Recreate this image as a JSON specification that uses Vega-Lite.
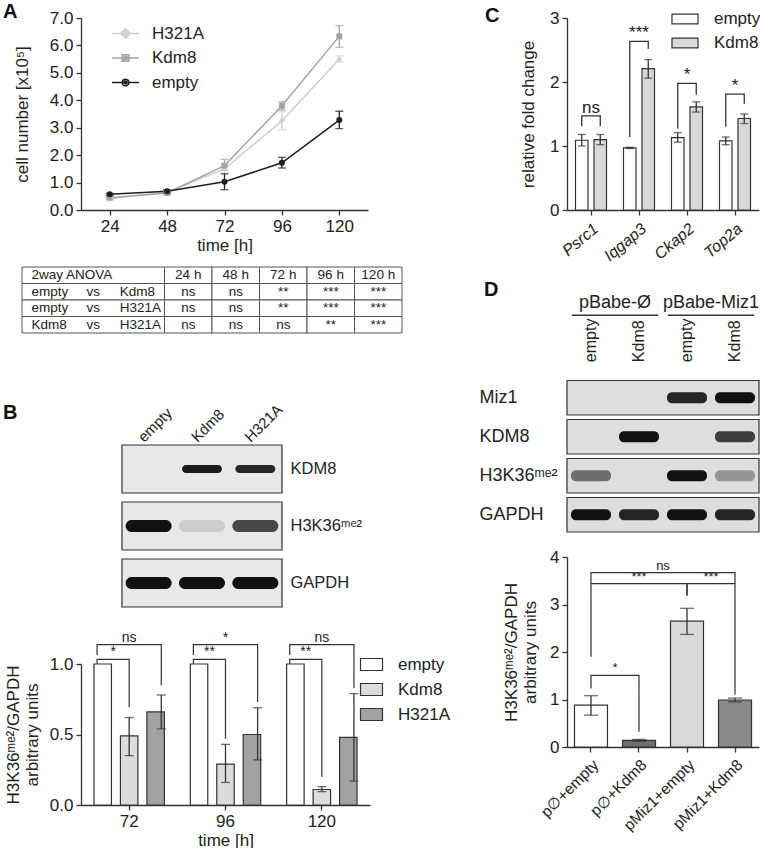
{
  "$schema": "https://vega.github.io/schema/vega-lite/v6.json",
  "padding": {"left": 3, "top": 1, "right": 0, "bottom": 0},
  "config": {
    "font": "Liberation Sans",
    "view": {"stroke": null},
    "axis": {"labelFont": "Liberation Sans", "titleFont": "Liberation Sans", "labelFontSize": 17, "titleFontSize": 17, "titleFontWeight": "normal", "labelColor": "#222", "titleColor": "#222", "domainColor": "#333", "tickColor": "#333", "domainWidth": 1.3, "tickWidth": 1.3, "tickSize": 5, "grid": false, "labelPadding": 3, "labelOverlap": false},
    "legend": {"labelFont": "Liberation Sans", "labelFontSize": 17, "labelColor": "#222"},
    "title": {"font": "Liberation Sans", "fontSize": 20, "fontWeight": "bold", "color": "#111", "anchor": "start", "frame": "group", "offset": 0},
    "text": {"font": "Liberation Sans", "color": "#222"}
  },
  "datasets": {
    "growth": [
      {"series": "H321A", "t": 24, "v": 0.42, "lo": 0.38, "hi": 0.46},
      {"series": "H321A", "t": 48, "v": 0.65, "lo": 0.6, "hi": 0.7},
      {"series": "H321A", "t": 72, "v": 1.5, "lo": 1.35, "hi": 1.65},
      {"series": "H321A", "t": 96, "v": 3.25, "lo": 2.92, "hi": 3.58},
      {"series": "H321A", "t": 120, "v": 5.5, "lo": 5.4, "hi": 5.62},
      {"series": "Kdm8", "t": 24, "v": 0.45, "lo": 0.42, "hi": 0.48},
      {"series": "Kdm8", "t": 48, "v": 0.62, "lo": 0.57, "hi": 0.67},
      {"series": "Kdm8", "t": 72, "v": 1.62, "lo": 1.45, "hi": 1.85},
      {"series": "Kdm8", "t": 96, "v": 3.8, "lo": 3.64, "hi": 3.95},
      {"series": "Kdm8", "t": 120, "v": 6.33, "lo": 5.93, "hi": 6.72},
      {"series": "empty", "t": 24, "v": 0.57, "lo": 0.53, "hi": 0.61},
      {"series": "empty", "t": 48, "v": 0.68, "lo": 0.62, "hi": 0.74},
      {"series": "empty", "t": 72, "v": 1.03, "lo": 0.74, "hi": 1.32},
      {"series": "empty", "t": 96, "v": 1.72, "lo": 1.53, "hi": 1.92},
      {"series": "empty", "t": 120, "v": 3.28, "lo": 2.97, "hi": 3.6}
    ],
    "cells": [
      {"row": "h", "a": "c1", "b": "c3"}, {"row": "h", "a": "24 h", "b": "24 h"}, {"row": "h", "a": "48 h", "b": "48 h"}, {"row": "h", "a": "72 h", "b": "72 h"}, {"row": "h", "a": "96 h", "b": "96 h"}, {"row": "h", "a": "120 h", "b": "120 h"},
      {"row": "r1", "a": "c1", "b": "c3"}, {"row": "r1", "a": "24 h", "b": "24 h"}, {"row": "r1", "a": "48 h", "b": "48 h"}, {"row": "r1", "a": "72 h", "b": "72 h"}, {"row": "r1", "a": "96 h", "b": "96 h"}, {"row": "r1", "a": "120 h", "b": "120 h"},
      {"row": "r2", "a": "c1", "b": "c3"}, {"row": "r2", "a": "24 h", "b": "24 h"}, {"row": "r2", "a": "48 h", "b": "48 h"}, {"row": "r2", "a": "72 h", "b": "72 h"}, {"row": "r2", "a": "96 h", "b": "96 h"}, {"row": "r2", "a": "120 h", "b": "120 h"},
      {"row": "r3", "a": "c1", "b": "c3"}, {"row": "r3", "a": "24 h", "b": "24 h"}, {"row": "r3", "a": "48 h", "b": "48 h"}, {"row": "r3", "a": "72 h", "b": "72 h"}, {"row": "r3", "a": "96 h", "b": "96 h"}, {"row": "r3", "a": "120 h", "b": "120 h"}
    ],
    "tbl": [
      {"row": "h", "col": "c1", "txt": "2way ANOVA"}, {"row": "h", "col": "24 h", "txt": "24 h"}, {"row": "h", "col": "48 h", "txt": "48 h"}, {"row": "h", "col": "72 h", "txt": "72 h"}, {"row": "h", "col": "96 h", "txt": "96 h"}, {"row": "h", "col": "120 h", "txt": "120 h"},
      {"row": "r1", "col": "c1", "txt": "empty"}, {"row": "r1", "col": "c2", "txt": "vs"}, {"row": "r1", "col": "c3", "txt": "Kdm8"}, {"row": "r1", "col": "24 h", "txt": "ns"}, {"row": "r1", "col": "48 h", "txt": "ns"}, {"row": "r1", "col": "72 h", "txt": "**"}, {"row": "r1", "col": "96 h", "txt": "***"}, {"row": "r1", "col": "120 h", "txt": "***"},
      {"row": "r2", "col": "c1", "txt": "empty"}, {"row": "r2", "col": "c2", "txt": "vs"}, {"row": "r2", "col": "c3", "txt": "H321A"}, {"row": "r2", "col": "24 h", "txt": "ns"}, {"row": "r2", "col": "48 h", "txt": "ns"}, {"row": "r2", "col": "72 h", "txt": "**"}, {"row": "r2", "col": "96 h", "txt": "***"}, {"row": "r2", "col": "120 h", "txt": "***"},
      {"row": "r3", "col": "c1", "txt": "Kdm8"}, {"row": "r3", "col": "c2", "txt": "vs"}, {"row": "r3", "col": "c3", "txt": "H321A"}, {"row": "r3", "col": "24 h", "txt": "ns"}, {"row": "r3", "col": "48 h", "txt": "ns"}, {"row": "r3", "col": "72 h", "txt": "ns"}, {"row": "r3", "col": "96 h", "txt": "**"}, {"row": "r3", "col": "120 h", "txt": "***"}
    ],
    "bframes": [
      {"blot": "KDM8", "a": "empty", "b": "H321A"},
      {"blot": "H3K36ᵐᵉ²", "a": "empty", "b": "H321A"},
      {"blot": "GAPDH", "a": "empty", "b": "H321A"}
    ],
    "bbands": [
      {"blot": "KDM8", "lane": "empty", "s": 0},
      {"blot": "KDM8", "lane": "Kdm8", "s": 0.95},
      {"blot": "KDM8", "lane": "H321A", "s": 0.9},
      {"blot": "H3K36ᵐᵉ²", "lane": "empty", "s": 1},
      {"blot": "H3K36ᵐᵉ²", "lane": "Kdm8", "s": 0.12},
      {"blot": "H3K36ᵐᵉ²", "lane": "H321A", "s": 0.75},
      {"blot": "GAPDH", "lane": "empty", "s": 1},
      {"blot": "GAPDH", "lane": "Kdm8", "s": 1},
      {"blot": "GAPDH", "lane": "H321A", "s": 1}
    ],
    "bbar": [
      {"t": "72", "s": "empty", "v": 1.0},
      {"t": "72", "s": "Kdm8", "v": 0.49, "lo": 0.35, "hi": 0.62},
      {"t": "72", "s": "H321A", "v": 0.66, "lo": 0.54, "hi": 0.78},
      {"t": "96", "s": "empty", "v": 1.0},
      {"t": "96", "s": "Kdm8", "v": 0.29, "lo": 0.16, "hi": 0.43},
      {"t": "96", "s": "H321A", "v": 0.5, "lo": 0.32, "hi": 0.69},
      {"t": "120", "s": "empty", "v": 1.0},
      {"t": "120", "s": "Kdm8", "v": 0.11, "lo": 0.095, "hi": 0.13},
      {"t": "120", "s": "H321A", "v": 0.48, "lo": 0.17, "hi": 0.79}
    ],
    "bbr": [
      {"id": "a", "t": "72", "p": "empty", "v": 1.064, "k": 0}, {"id": "a", "t": "72", "p": "empty", "v": 1.137, "k": 1}, {"id": "a", "t": "72", "p": "H321A", "v": 1.137, "k": 2}, {"id": "a", "t": "72", "p": "H321A", "v": 0.85, "k": 3},
      {"id": "b", "t": "72", "p": "empty", "v": 1.0, "k": 0}, {"id": "b", "t": "72", "p": "empty", "v": 1.033, "k": 1}, {"id": "b", "t": "72", "p": "Kdm8", "v": 1.033, "k": 2}, {"id": "b", "t": "72", "p": "Kdm8", "v": 0.695, "k": 3},
      {"id": "c", "t": "96", "p": "empty", "v": 1.064, "k": 0}, {"id": "c", "t": "96", "p": "empty", "v": 1.137, "k": 1}, {"id": "c", "t": "96", "p": "H321A", "v": 1.137, "k": 2}, {"id": "c", "t": "96", "p": "H321A", "v": 0.73, "k": 3},
      {"id": "d", "t": "96", "p": "empty", "v": 1.0, "k": 0}, {"id": "d", "t": "96", "p": "empty", "v": 1.033, "k": 1}, {"id": "d", "t": "96", "p": "Kdm8", "v": 1.033, "k": 2}, {"id": "d", "t": "96", "p": "Kdm8", "v": 0.47, "k": 3},
      {"id": "e", "t": "120", "p": "empty", "v": 1.064, "k": 0}, {"id": "e", "t": "120", "p": "empty", "v": 1.137, "k": 1}, {"id": "e", "t": "120", "p": "H321A", "v": 1.137, "k": 2}, {"id": "e", "t": "120", "p": "H321A", "v": 0.83, "k": 3},
      {"id": "f", "t": "120", "p": "empty", "v": 1.0, "k": 0}, {"id": "f", "t": "120", "p": "empty", "v": 1.033, "k": 1}, {"id": "f", "t": "120", "p": "Kdm8", "v": 1.033, "k": 2}, {"id": "f", "t": "120", "p": "Kdm8", "v": 0.2, "k": 3}
    ],
    "bbt": [
      {"t": "72", "p": "Kdm8", "v": 1.137, "lab": "ns"},
      {"t": "72", "p": "e|k", "v": 1.033, "lab": "*"},
      {"t": "96", "p": "Kdm8", "v": 1.137, "lab": "*"},
      {"t": "96", "p": "e|k", "v": 1.033, "lab": "**"},
      {"t": "120", "p": "Kdm8", "v": 1.137, "lab": "ns"},
      {"t": "120", "p": "e|k", "v": 1.033, "lab": "**"}
    ],
    "cbar": [
      {"g": "Psrc1", "s": "empty", "v": 1.09, "lo": 1.0, "hi": 1.18},
      {"g": "Psrc1", "s": "Kdm8", "v": 1.1, "lo": 1.02, "hi": 1.18},
      {"g": "Iqgap3", "s": "empty", "v": 0.97, "lo": 0.96, "hi": 0.98},
      {"g": "Iqgap3", "s": "Kdm8", "v": 2.21, "lo": 2.06, "hi": 2.35},
      {"g": "Ckap2", "s": "empty", "v": 1.13, "lo": 1.06, "hi": 1.21},
      {"g": "Ckap2", "s": "Kdm8", "v": 1.61, "lo": 1.53, "hi": 1.69},
      {"g": "Top2a", "s": "empty", "v": 1.08, "lo": 1.02, "hi": 1.14},
      {"g": "Top2a", "s": "Kdm8", "v": 1.43, "lo": 1.35, "hi": 1.5}
    ],
    "cbr": [
      {"id": "a", "g": "Psrc1", "p": "empty", "v": 1.31, "k": 0}, {"id": "a", "g": "Psrc1", "p": "empty", "v": 1.47, "k": 1}, {"id": "a", "g": "Psrc1", "p": "Kdm8", "v": 1.47, "k": 2}, {"id": "a", "g": "Psrc1", "p": "Kdm8", "v": 1.31, "k": 3},
      {"id": "b", "g": "Iqgap3", "p": "empty", "v": 1.14, "k": 0}, {"id": "b", "g": "Iqgap3", "p": "empty", "v": 2.636, "k": 1}, {"id": "b", "g": "Iqgap3", "p": "Kdm8", "v": 2.636, "k": 2}, {"id": "b", "g": "Iqgap3", "p": "Kdm8", "v": 2.52, "k": 3},
      {"id": "c", "g": "Ckap2", "p": "empty", "v": 1.27, "k": 0}, {"id": "c", "g": "Ckap2", "p": "empty", "v": 1.98, "k": 1}, {"id": "c", "g": "Ckap2", "p": "Kdm8", "v": 1.98, "k": 2}, {"id": "c", "g": "Ckap2", "p": "Kdm8", "v": 1.8, "k": 3},
      {"id": "d", "g": "Top2a", "p": "empty", "v": 1.3, "k": 0}, {"id": "d", "g": "Top2a", "p": "empty", "v": 1.81, "k": 1}, {"id": "d", "g": "Top2a", "p": "Kdm8", "v": 1.81, "k": 2}, {"id": "d", "g": "Top2a", "p": "Kdm8", "v": 1.66, "k": 3}
    ],
    "cbt": [
      {"g": "Psrc1", "v": 1.47, "lab": "ns"},
      {"g": "Iqgap3", "v": 2.636, "lab": "***"},
      {"g": "Ckap2", "v": 1.98, "lab": "*"},
      {"g": "Top2a", "v": 1.81, "lab": "*"}
    ],
    "dframes": [
      {"blot": "Miz1", "a": "pØ|empty", "b": "pM|Kdm8"},
      {"blot": "KDM8", "a": "pØ|empty", "b": "pM|Kdm8"},
      {"blot": "H3K36ᵐᵉ²", "a": "pØ|empty", "b": "pM|Kdm8"},
      {"blot": "GAPDH", "a": "pØ|empty", "b": "pM|Kdm8"}
    ],
    "dbands": [
      {"blot": "Miz1", "lane": "pØ|empty", "s": 0}, {"blot": "Miz1", "lane": "pØ|Kdm8", "s": 0}, {"blot": "Miz1", "lane": "pM|empty", "s": 0.9}, {"blot": "Miz1", "lane": "pM|Kdm8", "s": 1},
      {"blot": "KDM8", "lane": "pØ|empty", "s": 0}, {"blot": "KDM8", "lane": "pØ|Kdm8", "s": 1}, {"blot": "KDM8", "lane": "pM|empty", "s": 0}, {"blot": "KDM8", "lane": "pM|Kdm8", "s": 0.8},
      {"blot": "H3K36ᵐᵉ²", "lane": "pØ|empty", "s": 0.55}, {"blot": "H3K36ᵐᵉ²", "lane": "pØ|Kdm8", "s": 0}, {"blot": "H3K36ᵐᵉ²", "lane": "pM|empty", "s": 1}, {"blot": "H3K36ᵐᵉ²", "lane": "pM|Kdm8", "s": 0.35},
      {"blot": "GAPDH", "lane": "pØ|empty", "s": 1}, {"blot": "GAPDH", "lane": "pØ|Kdm8", "s": 0.9}, {"blot": "GAPDH", "lane": "pM|empty", "s": 1}, {"blot": "GAPDH", "lane": "pM|Kdm8", "s": 0.9}
    ],
    "dhdr": [
      {"lane": "pØ|Kdm8", "txt": "pBabe-Ø"},
      {"lane": "pM|Kdm8", "txt": "pBabe-Miz1"}
    ],
    "dhline": [
      {"a": "pØ|empty", "b": "pØ|Kdm8"},
      {"a": "pM|empty", "b": "pM|Kdm8"}
    ],
    "dlanes": [
      {"lane": "pØ|empty", "lab": "empty"},
      {"lane": "pØ|Kdm8", "lab": "Kdm8"},
      {"lane": "pM|empty", "lab": "empty"},
      {"lane": "pM|Kdm8", "lab": "Kdm8"}
    ],
    "dbar": [
      {"c": "p∅+empty", "v": 0.88, "lo": 0.67, "hi": 1.08},
      {"c": "p∅+Kdm8", "v": 0.14, "lo": 0.12, "hi": 0.16},
      {"c": "pMiz1+empty", "v": 2.65, "lo": 2.37, "hi": 2.92},
      {"c": "pMiz1+Kdm8", "v": 0.99, "lo": 0.95, "hi": 1.03}
    ],
    "dbr": [
      {"id": "a", "p": "p∅+empty", "v": 3.45, "k": 0}, {"id": "a", "p": "p∅+empty", "v": 3.67, "k": 1}, {"id": "a", "p": "pMiz1+Kdm8", "v": 3.67, "k": 2}, {"id": "a", "p": "pMiz1+Kdm8", "v": 3.45, "k": 3},
      {"id": "b", "p": "p∅+empty", "v": 1.9, "k": 0}, {"id": "b", "p": "p∅+empty", "v": 3.44, "k": 1}, {"id": "b", "p": "pMiz1+empty", "v": 3.44, "k": 2}, {"id": "b", "p": "pMiz1+empty", "v": 3.19, "k": 3},
      {"id": "c", "p": "pMiz1+empty", "v": 3.19, "k": 0}, {"id": "c", "p": "pMiz1+empty", "v": 3.44, "k": 1}, {"id": "c", "p": "pMiz1+Kdm8", "v": 3.44, "k": 2}, {"id": "c", "p": "pMiz1+Kdm8", "v": 1.1, "k": 3},
      {"id": "d", "p": "p∅+empty", "v": 1.23, "k": 0}, {"id": "d", "p": "p∅+empty", "v": 1.51, "k": 1}, {"id": "d", "p": "p∅+Kdm8", "v": 1.51, "k": 2}, {"id": "d", "p": "p∅+Kdm8", "v": 0.32, "k": 3}
    ],
    "dbt": [
      {"p": "m2", "v": 3.67, "lab": "ns"},
      {"p": "p∅+Kdm8", "v": 3.44, "lab": "***"},
      {"p": "m3", "v": 3.44, "lab": "***"},
      {"p": "m1", "v": 1.51, "lab": "*"}
    ]
  },
  "bounds": "flush",
  "spacing": 486,
  "resolve": {"scale": {"color": "independent", "fill": "independent", "shape": "independent", "opacity": "independent", "stroke": "independent"}},
  "hconcat": [
    {
      "bounds": "flush",
      "spacing": 57,
      "resolve": {"scale": {"color": "independent", "fill": "independent", "shape": "independent", "opacity": "independent", "stroke": "independent"}},
      "vconcat": [
        {
          "width": 287, "height": 192,
          "title": {"text": "A", "dx": -78, "dy": 16.6},
          "data": {"name": "growth"},
          "resolve": {"scale": {"shape": "independent", "stroke": "independent"}},
          "layer": [
            {
              "mark": {"type": "line", "strokeWidth": 1.5},
              "encoding": {
                "x": {"field": "t", "type": "quantitative", "scale": {"domain": [12, 132], "nice": false, "zero": false}, "axis": {"values": [24, 48, 72, 96, 120], "title": "time [h]", "titlePadding": 3}},
                "y": {"field": "v", "type": "quantitative", "scale": {"domain": [0, 7], "nice": false}, "axis": {"values": [0, 1, 2, 3, 4, 5, 6, 7], "tickCount": 8, "format": ".1f", "labelOverlap": false, "title": "cell number [x10⁵]", "titlePadding": 18}},
                "color": {"field": "series", "type": "nominal", "scale": {"domain": ["H321A", "Kdm8", "empty"], "range": ["#cfcfcf", "#a4a4a4", "#1e1e1e"]}, "legend": null}
              }
            },
            {
              "mark": {"type": "rule", "strokeWidth": 1.3},
              "encoding": {
                "x": {"field": "t", "type": "quantitative", "axis": {"values": [24, 48, 72, 96, 120], "title": "time [h]", "titlePadding": 3}},
                "y": {"field": "lo", "type": "quantitative", "axis": {"values": [0, 1, 2, 3, 4, 5, 6, 7], "tickCount": 8, "format": ".1f", "labelOverlap": false, "title": "cell number [x10⁵]", "titlePadding": 18}},
                "y2": {"field": "hi"},
                "color": {"field": "series", "type": "nominal", "legend": null}
              }
            },
            {
              "mark": {"type": "tick", "orient": "horizontal", "size": 8, "thickness": 1.3},
              "encoding": {
                "x": {"field": "t", "type": "quantitative", "axis": {"values": [24, 48, 72, 96, 120], "title": "time [h]", "titlePadding": 3}},
                "y": {"field": "lo", "type": "quantitative", "axis": {"values": [0, 1, 2, 3, 4, 5, 6, 7], "tickCount": 8, "format": ".1f", "labelOverlap": false, "title": "cell number [x10⁵]", "titlePadding": 18}},
                "color": {"field": "series", "type": "nominal", "legend": null}
              }
            },
            {
              "mark": {"type": "tick", "orient": "horizontal", "size": 8, "thickness": 1.3},
              "encoding": {
                "x": {"field": "t", "type": "quantitative", "axis": {"values": [24, 48, 72, 96, 120], "title": "time [h]", "titlePadding": 3}},
                "y": {"field": "hi", "type": "quantitative", "axis": {"values": [0, 1, 2, 3, 4, 5, 6, 7], "tickCount": 8, "format": ".1f", "labelOverlap": false, "title": "cell number [x10⁵]", "titlePadding": 18}},
                "color": {"field": "series", "type": "nominal", "legend": null}
              }
            },
            {
              "mark": {"type": "point", "filled": true, "size": 36, "opacity": 1},
              "encoding": {
                "x": {"field": "t", "type": "quantitative", "axis": {"values": [24, 48, 72, 96, 120], "title": "time [h]", "titlePadding": 3}},
                "y": {"field": "v", "type": "quantitative", "axis": {"values": [0, 1, 2, 3, 4, 5, 6, 7], "tickCount": 8, "format": ".1f", "labelOverlap": false, "title": "cell number [x10⁵]", "titlePadding": 18}},
                "color": {"field": "series", "type": "nominal", "legend": null},
                "shape": {"field": "series", "type": "nominal", "scale": {"domain": ["H321A", "Kdm8", "empty"], "range": ["diamond", "square", "circle"]}, "legend": null}
              }
            },
            {
              "mark": {"type": "point", "filled": false, "opacity": 0, "strokeWidth": 1.5},
              "encoding": {
                "x": {"field": "t", "type": "quantitative", "axis": {"values": [24, 48, 72, 96, 120], "title": "time [h]", "titlePadding": 3}},
                "y": {"field": "v", "type": "quantitative", "axis": {"values": [0, 1, 2, 3, 4, 5, 6, 7], "tickCount": 8, "format": ".1f", "labelOverlap": false, "title": "cell number [x10⁵]", "titlePadding": 18}},
                "stroke": {"field": "series", "type": "nominal", "scale": {"domain": ["H321A", "Kdm8", "empty"], "range": ["#cfcfcf", "#a4a4a4", "#1e1e1e"]},
                  "legend": {"orient": "none", "legendX": 36, "legendY": 7, "title": null, "symbolSize": 182, "symbolStrokeWidth": 1.5, "labelOffset": 18, "rowPadding": 6.5, "encode": {"symbols": {"update": {"opacity": {"value": 1}}}}}},
                "shape": {
                  "field": "series", "type": "nominal",
                  "scale": {"domain": ["H321A", "Kdm8", "empty"], "range": ["M-2,0L2,0M0,-0.7L0.7,0L0,0.7L-0.7,0ZM0,-0.35L0.35,0L0,0.35L-0.35,0Z", "M-2,0L2,0M-0.5,-0.5H0.5V0.5H-0.5ZM-0.22,-0.22H0.22V0.22H-0.22Z", "M-2,0L2,0M-0.5,0A0.5,0.5,0,1,1,0.5,0A0.5,0.5,0,1,1,-0.5,0ZM-0.22,0A0.22,0.22,0,1,1,0.22,0A0.22,0.22,0,1,1,-0.22,0Z"]},
                  "legend": {"orient": "none", "legendX": 36, "legendY": 7, "title": null, "symbolSize": 182, "symbolStrokeWidth": 1.5, "labelOffset": 18, "rowPadding": 6.5, "encode": {"symbols": {"update": {"opacity": {"value": 1}}}}}
                }
              }
            }
          ]
        },
        {
          "width": 321, "height": 121,
          "layer": [
            {
              "data": {"name": "cells"},
              "mark": {"type": "rect", "fill": "white", "stroke": "#555", "strokeWidth": 1},
              "encoding": {
                "x": {"field": "a", "type": "nominal", "bandPosition": 0, "scale": {"domain": ["c1", "c2", "c3", "24 h", "48 h", "72 h", "96 h", "120 h"], "range": [-59, 321], "paddingInner": 0, "paddingOuter": 0}, "axis": null},
                "x2": {"field": "b", "bandPosition": 1},
                "y": {"field": "row", "type": "nominal", "scale": {"domain": ["h", "r1", "r2", "r3"], "range": [0, 66], "paddingInner": 0, "paddingOuter": 0}, "axis": null}
              }
            },
            {
              "data": {"name": "tbl"},
              "transform": [{"filter": "datum.col === 'c1'"}],
              "mark": {"type": "text", "align": "left", "baseline": "middle", "fontSize": 13.5},
              "encoding": {
                "x": {"field": "col", "type": "nominal", "bandPosition": 0.2},
                "y": {"field": "row", "type": "nominal"},
                "text": {"field": "txt"}
              }
            },
            {
              "data": {"name": "tbl"},
              "transform": [{"filter": "datum.col === 'c3'"}],
              "mark": {"type": "text", "align": "left", "baseline": "middle", "fontSize": 13.5},
              "encoding": {
                "x": {"field": "col", "type": "nominal", "bandPosition": 0.06},
                "y": {"field": "row", "type": "nominal"},
                "text": {"field": "txt"}
              }
            },
            {
              "data": {"name": "tbl"},
              "transform": [{"filter": "datum.col !== 'c1' && datum.col !== 'c3'"}],
              "mark": {"type": "text", "align": "center", "baseline": "middle", "fontSize": 13.5},
              "encoding": {
                "x": {"field": "col", "type": "nominal"},
                "y": {"field": "row", "type": "nominal"},
                "text": {"field": "txt"}
              }
            }
          ]
        },
        {
          "width": 201, "height": 162,
          "title": {"text": "B", "dx": -78, "dy": 25},
          "layer": [
            {
              "data": {"name": "bframes"},
              "mark": {"type": "rect", "fill": "#e8e8e8", "stroke": "#333", "strokeWidth": 1.2},
              "encoding": {
                "x": {"field": "a", "type": "nominal", "bandPosition": 0, "scale": {"domain": ["empty", "Kdm8", "H321A"], "paddingInner": 0, "paddingOuter": 0.384, "align": 1}, "axis": {"orient": "top", "title": null, "domain": false, "ticks": false, "labelAngle": -45, "labelAlign": "left", "labelBaseline": "middle", "labelFontSize": 15, "labelPadding": 6, "labelOffset": -8}},
                "x2": {"field": "b", "bandPosition": 1},
                "y": {"field": "blot", "type": "nominal", "scale": {"domain": ["KDM8", "H3K36ᵐᵉ²", "GAPDH"], "paddingInner": 0.158, "paddingOuter": 0}, "axis": {"orient": "right", "title": null, "domain": false, "ticks": false, "labelFontSize": 16.5, "labelPadding": 8}}
              }
            },
            {
              "data": {"name": "bbands"},
              "transform": [{"filter": "datum.blot === 'KDM8'"}],
              "mark": {"type": "tick", "orient": "horizontal", "size": 40, "thickness": 8, "color": "#111", "cornerRadius": 4},
              "encoding": {
                "x": {"field": "lane", "type": "nominal"},
                "y": {"field": "blot", "type": "nominal"},
                "opacity": {"field": "s", "type": "quantitative", "scale": {"domain": [0, 1], "range": [0, 1]}, "legend": null}
              }
            },
            {
              "data": {"name": "bbands"},
              "transform": [{"filter": "datum.blot !== 'KDM8'"}],
              "mark": {"type": "tick", "orient": "horizontal", "size": 46, "thickness": 12, "color": "#111", "cornerRadius": 6},
              "encoding": {
                "x": {"field": "lane", "type": "nominal"},
                "y": {"field": "blot", "type": "nominal"},
                "opacity": {"field": "s", "type": "quantitative", "legend": null}
              }
            }
          ]
        },
        {
          "width": 289, "height": 141,
          "resolve": {"scale": {"xOffset": "independent"}},
          "layer": [
            {
              "data": {"name": "bbar"},
              "mark": {"type": "bar", "stroke": "#333", "strokeWidth": 1.2},
              "encoding": {
                "x": {"field": "t", "type": "nominal", "scale": {"domain": ["72", "96", "120"], "paddingInner": 0, "paddingOuter": 0}, "axis": {"labelAngle": 0, "title": "time [h]", "titlePadding": 3}},
                "xOffset": {"field": "s", "type": "nominal", "scale": {"domain": ["empty", "Kdm8", "H321A"], "paddingInner": 0.34, "paddingOuter": 0.49}},
                "y": {"field": "v", "type": "quantitative", "scale": {"domain": [0, 1], "nice": false}, "axis": {"values": [0, 0.5, 1], "format": ".1f", "title": ["H3K36ᵐᵉ²/GAPDH", "arbitrary units"], "titlePadding": 8, "titleLineHeight": 19}},
                "fill": {"field": "s", "type": "nominal", "scale": {"domain": ["empty", "Kdm8", "H321A"], "range": ["#ffffff", "#dcdcdc", "#a2a2a2"]},
                  "legend": {"orient": "none", "legendX": 282, "legendY": -8, "title": null, "symbolType": "M-1.6,-0.87H1.6V0.87H-1.6Z", "symbolSize": 189, "symbolStrokeColor": "#333", "symbolStrokeWidth": 1.2, "labelOffset": 18, "rowPadding": 7}}
              }
            },
            {
              "layer": [
                {
                  "data": {"name": "bbar"},
                  "transform": [{"filter": "isValid(datum.lo)"}],
                  "mark": {"type": "rule", "color": "#333", "strokeWidth": 1.3},
                  "encoding": {
                    "x": {"field": "t", "type": "nominal"},
                    "xOffset": {"field": "s", "type": "nominal", "scale": {"type": "point", "domain": ["empty", "e|k", "Kdm8", "k|h", "H321A"], "padding": 1.64}},
                    "y": {"field": "lo", "type": "quantitative"},
                    "y2": {"field": "hi"}
                  }
                },
                {
                  "data": {"name": "bbar"},
                  "transform": [{"filter": "isValid(datum.lo)"}],
                  "mark": {"type": "tick", "orient": "horizontal", "size": 9, "thickness": 1.3, "color": "#333"},
                  "encoding": {
                    "x": {"field": "t", "type": "nominal"},
                    "xOffset": {"field": "s", "type": "nominal"},
                    "y": {"field": "lo", "type": "quantitative"}
                  }
                },
                {
                  "data": {"name": "bbar"},
                  "transform": [{"filter": "isValid(datum.lo)"}],
                  "mark": {"type": "tick", "orient": "horizontal", "size": 9, "thickness": 1.3, "color": "#333"},
                  "encoding": {
                    "x": {"field": "t", "type": "nominal"},
                    "xOffset": {"field": "s", "type": "nominal"},
                    "y": {"field": "hi", "type": "quantitative"}
                  }
                },
                {
                  "data": {"name": "bbr"},
                  "mark": {"type": "line", "color": "#333", "strokeWidth": 1.2},
                  "encoding": {
                    "x": {"field": "t", "type": "nominal"},
                    "xOffset": {"field": "p", "type": "nominal"},
                    "y": {"field": "v", "type": "quantitative"},
                    "detail": {"field": "id"},
                    "order": {"field": "k"}
                  }
                },
                {
                  "data": {"name": "bbt"},
                  "mark": {"type": "text", "baseline": "alphabetic", "fontSize": 14, "dy": -3},
                  "encoding": {
                    "x": {"field": "t", "type": "nominal"},
                    "xOffset": {"field": "p", "type": "nominal"},
                    "y": {"field": "v", "type": "quantitative"},
                    "text": {"field": "lab"}
                  }
                }
              ]
            }
          ]
        }
      ]
    },
    {
      "bounds": "flush",
      "spacing": 25,
      "resolve": {"scale": {"color": "independent", "fill": "independent", "shape": "independent", "opacity": "independent", "stroke": "independent"}},
      "vconcat": [
        {
          "width": 192, "height": 192,
          "title": {"text": "C", "dx": -82, "dy": 20.6},
          "resolve": {"scale": {"xOffset": "independent"}},
          "layer": [
            {
              "data": {"name": "cbar"},
              "mark": {"type": "bar", "stroke": "#333", "strokeWidth": 1.2},
              "encoding": {
                "x": {"field": "g", "type": "nominal", "scale": {"domain": ["Psrc1", "Iqgap3", "Ckap2", "Top2a"], "paddingInner": 0, "paddingOuter": 0}, "axis": {"title": null, "labelAngle": -40, "labelFontStyle": "italic", "labelFontSize": 16, "labelPadding": 5}},
                "xOffset": {"field": "s", "type": "nominal", "scale": {"domain": ["empty", "Kdm8"], "paddingInner": 0.324, "paddingOuter": 0.46}},
                "y": {"field": "v", "type": "quantitative", "scale": {"domain": [0, 3], "nice": false}, "axis": {"values": [0, 1, 2, 3], "format": "d", "title": "relative fold change", "titlePadding": 12}},
                "fill": {"field": "s", "type": "nominal", "scale": {"domain": ["empty", "Kdm8"], "range": ["#ffffff", "#d9d9d9"]},
                  "legend": {"orient": "none", "legendX": 109, "legendY": -8, "title": null, "symbolType": "M-1.6,-0.6H1.6V0.6H-1.6Z", "symbolSize": 264, "symbolStrokeColor": "#333", "symbolStrokeWidth": 1.2, "labelOffset": 20, "rowPadding": 7}}
              }
            },
            {
              "layer": [
                {
                  "data": {"name": "cbar"},
                  "mark": {"type": "rule", "color": "#333", "strokeWidth": 1.3},
                  "encoding": {
                    "x": {"field": "g", "type": "nominal"},
                    "xOffset": {"field": "s", "type": "nominal", "scale": {"type": "point", "domain": ["empty", "Kdm8"], "padding": 0.797}},
                    "y": {"field": "lo", "type": "quantitative"},
                    "y2": {"field": "hi"}
                  }
                },
                {
                  "data": {"name": "cbar"},
                  "mark": {"type": "tick", "orient": "horizontal", "size": 8, "thickness": 1.3, "color": "#333"},
                  "encoding": {
                    "x": {"field": "g", "type": "nominal"},
                    "xOffset": {"field": "s", "type": "nominal"},
                    "y": {"field": "lo", "type": "quantitative"}
                  }
                },
                {
                  "data": {"name": "cbar"},
                  "mark": {"type": "tick", "orient": "horizontal", "size": 8, "thickness": 1.3, "color": "#333"},
                  "encoding": {
                    "x": {"field": "g", "type": "nominal"},
                    "xOffset": {"field": "s", "type": "nominal"},
                    "y": {"field": "hi", "type": "quantitative"}
                  }
                },
                {
                  "data": {"name": "cbr"},
                  "mark": {"type": "line", "color": "#333", "strokeWidth": 1.3},
                  "encoding": {
                    "x": {"field": "g", "type": "nominal"},
                    "xOffset": {"field": "p", "type": "nominal"},
                    "y": {"field": "v", "type": "quantitative"},
                    "detail": {"field": "id"},
                    "order": {"field": "k"}
                  }
                },
                {
                  "data": {"name": "cbt"},
                  "mark": {"type": "text", "baseline": "alphabetic", "fontSize": 17, "dy": -3},
                  "encoding": {
                    "x": {"field": "g", "type": "nominal"},
                    "y": {"field": "v", "type": "quantitative"},
                    "text": {"field": "lab"}
                  }
                }
              ]
            }
          ]
        },
        {
          "width": 192, "height": 297,
          "title": {"text": "D", "dx": -83, "dy": 69},
          "layer": [
            {
              "data": {"name": "dframes"},
              "mark": {"type": "rect", "fill": "#dedede", "stroke": "#333", "strokeWidth": 1.2},
              "encoding": {
                "x": {"field": "a", "type": "nominal", "bandPosition": 0, "scale": {"domain": ["pØ|empty", "pØ|Kdm8", "pM|empty", "pM|Kdm8"], "paddingInner": 0, "paddingOuter": 0}, "axis": null},
                "x2": {"field": "b", "bandPosition": 1},
                "y": {"field": "blot", "type": "nominal", "scale": {"domain": ["hdr", "lbl", "Miz1", "KDM8", "H3K36ᵐᵉ²", "GAPDH"], "paddingInner": 0.115, "paddingOuter": 0.865, "align": 1}, "axis": {"values": ["Miz1", "KDM8", "H3K36ᵐᵉ²", "GAPDH"], "title": null, "domain": false, "ticks": false, "tickSize": 0, "labelAlign": "left", "labelPadding": 88, "labelFontSize": 18}}
              }
            },
            {
              "data": {"name": "dbands"},
              "mark": {"type": "tick", "orient": "horizontal", "size": 40, "thickness": 11, "color": "#111", "cornerRadius": 5},
              "encoding": {
                "x": {"field": "lane", "type": "nominal"},
                "y": {"field": "blot", "type": "nominal"},
                "opacity": {"field": "s", "type": "quantitative", "scale": {"domain": [0, 1], "range": [0, 1]}, "legend": null}
              }
            },
            {
              "data": {"name": "dhdr"},
              "mark": {"type": "text", "baseline": "alphabetic", "align": "center", "fontSize": 18},
              "encoding": {
                "x": {"field": "lane", "type": "nominal", "bandPosition": 0},
                "y": {"datum": "hdr", "type": "nominal", "bandPosition": 0.16},
                "text": {"field": "txt"}
              }
            },
            {
              "data": {"name": "dhline"},
              "mark": {"type": "rule", "color": "#333", "strokeWidth": 1.3},
              "encoding": {
                "x": {"field": "a", "type": "nominal", "bandPosition": 0.1},
                "x2": {"field": "b", "bandPosition": 0.9},
                "y": {"datum": "hdr", "type": "nominal", "bandPosition": 0.37}
              }
            },
            {
              "data": {"name": "dlanes"},
              "mark": {"type": "text", "angle": 270, "align": "left", "baseline": "middle", "fontSize": 16},
              "encoding": {
                "x": {"field": "lane", "type": "nominal"},
                "y": {"datum": "lbl", "type": "nominal", "bandPosition": 0.6},
                "text": {"field": "lab"}
              }
            }
          ]
        },
        {
          "width": 192, "height": 190,
          "resolve": {"scale": {"x": "independent"}},
          "layer": [
            {
              "data": {"name": "dbar"},
              "layer": [
                {
                  "mark": {"type": "bar", "stroke": "#333", "strokeWidth": 1.2},
                  "encoding": {
                    "x": {"field": "c", "type": "nominal", "scale": {"domain": ["p∅+empty", "p∅+Kdm8", "pMiz1+empty", "pMiz1+Kdm8"], "paddingInner": 0.3125, "paddingOuter": 0.156}, "axis": {"title": null, "labelAngle": -45, "labelFontSize": 15.5, "labelPadding": 5}},
                    "y": {"field": "v", "type": "quantitative", "scale": {"domain": [0, 4], "nice": false}, "axis": {"values": [0, 1, 2, 3, 4], "format": "d", "title": ["H3K36ᵐᵉ²/GAPDH", "arbitrary units"], "titlePadding": 10, "titleLineHeight": 19}},
                    "fill": {"field": "c", "type": "nominal", "scale": {"domain": ["p∅+empty", "p∅+Kdm8", "pMiz1+empty", "pMiz1+Kdm8"], "range": ["#ffffff", "#6e6e6e", "#d9d9d9", "#8a8a8a"]}, "legend": null}
                  }
                },
                {
                  "mark": {"type": "rule", "color": "#333", "strokeWidth": 1.3},
                  "encoding": {
                    "x": {"field": "c", "type": "nominal"},
                    "y": {"field": "lo", "type": "quantitative"},
                    "y2": {"field": "hi"}
                  }
                },
                {
                  "mark": {"type": "tick", "orient": "horizontal", "size": 14, "thickness": 1.3, "color": "#333"},
                  "encoding": {
                    "x": {"field": "c", "type": "nominal"},
                    "y": {"field": "lo", "type": "quantitative"}
                  }
                },
                {
                  "mark": {"type": "tick", "orient": "horizontal", "size": 14, "thickness": 1.3, "color": "#333"},
                  "encoding": {
                    "x": {"field": "c", "type": "nominal"},
                    "y": {"field": "hi", "type": "quantitative"}
                  }
                }
              ]
            },
            {
              "layer": [
                {
                  "data": {"name": "dbr"},
                  "mark": {"type": "line", "color": "#333", "strokeWidth": 1.2},
                  "encoding": {
                    "x": {"field": "p", "type": "nominal", "scale": {"type": "point", "domain": ["p∅+empty", "m1", "p∅+Kdm8", "m2", "pMiz1+empty", "m3", "pMiz1+Kdm8"], "padding": 1}, "axis": null},
                    "y": {"field": "v", "type": "quantitative"},
                    "detail": {"field": "id"},
                    "order": {"field": "k"}
                  }
                },
                {
                  "data": {"name": "dbt"},
                  "mark": {"type": "text", "baseline": "alphabetic", "fontSize": 13, "dy": -3},
                  "encoding": {
                    "x": {"field": "p", "type": "nominal"},
                    "y": {"field": "v", "type": "quantitative"},
                    "text": {"field": "lab"}
                  }
                }
              ]
            }
          ]
        }
      ]
    }
  ]
}
